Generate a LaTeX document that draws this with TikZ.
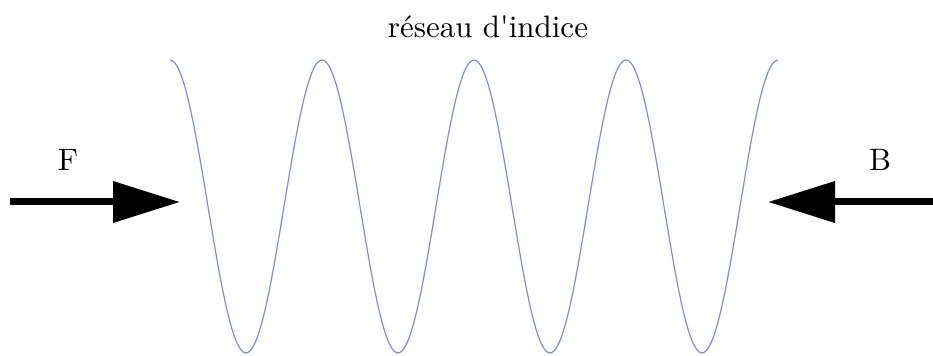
\documentclass[tikz,border=0pt]{standalone}
\usepackage{tikz}
\usetikzlibrary{arrows.meta}
\definecolor{onde}{RGB}{128,140,210}

\begin{document}
\begin{tikzpicture}[x=0.5pt, y=-0.5pt, font=\fontsize{10}{12}\selectfont]
\tikzstyle{lbl}=[inner sep=0pt, anchor=base, scale=1.55, transform shape]
\tikzstyle{flux}=[line width=3.5pt, -{Triangle[length=33.5pt,width=20pt]}]
\useasboundingbox (0,0) rectangle (933,356);
\node[lbl] (titre) at (488,38) {r\'eseau d\textquotesingle indice};
\node[lbl] (f) at (68,171) {F};
\node[lbl] (b) at (880,171) {B};
\coordinate (fa) at (10,202);
\coordinate (fb) at (180,202);
\coordinate (ba) at (933,202);
\coordinate (bb) at (768,202);
% 4 periodes de 152 px
\draw[onde, line width=0.6pt, smooth, samples=240, domain=0:608] plot ({170+\x}, {206.5-146.5*cos(\x*2.368421)});
\foreach \x/\y in {fa/fb,ba/bb}{\draw[flux] (\x) -- (\y);}
\end{tikzpicture}
\end{document}
